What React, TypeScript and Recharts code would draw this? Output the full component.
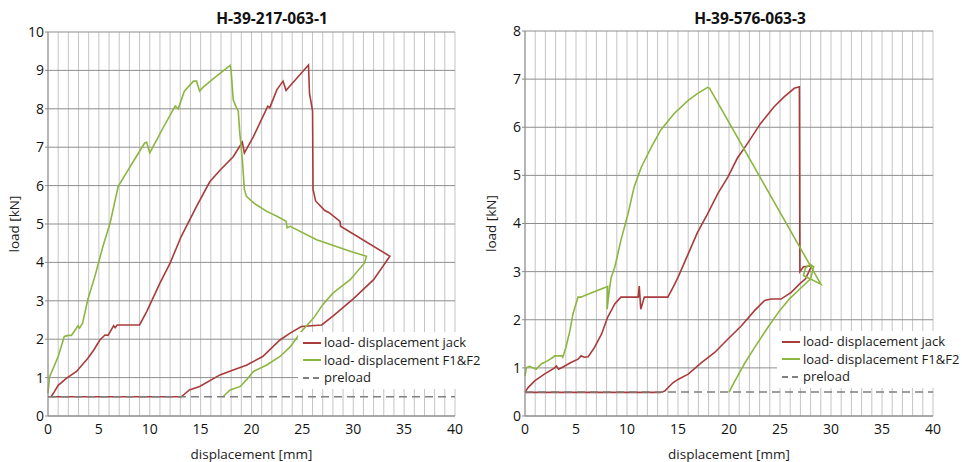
import { LineChart, Line, XAxis, YAxis, CartesianGrid, Legend } from "recharts";

const FONT = "'Open Sans', 'Liberation Sans', sans-serif";
const RED = "#A93B3B";
const GREEN = "#8DB640";
const GREY = "#7F7F7F";

// panel 1: H-39-217-063-1
const jackA: [number, number][] = [
  [0, 0.5], [0.3, 0.5], [0.6, 0.62], [1, 0.8], [1.8, 0.98], [2.8, 1.16], [3.9, 1.5], [4.5, 1.72],
  [5.1, 1.98], [5.6, 2.11], [5.9, 2.1], [6.3, 2.28], [6.45, 2.35], [6.6, 2.3], [6.8, 2.37], [9.0, 2.37],
  [9.7, 2.72], [11, 3.46], [12, 3.98], [13.1, 4.68], [14.6, 5.46], [15.9, 6.1], [16.9, 6.4], [18.2, 6.75],
  [19.1, 7.13], [19.3, 6.85], [20.2, 7.28], [21.6, 8.07], [21.8, 8.03], [22.5, 8.5], [23.1, 8.72],
  [23.4, 8.48], [23.8, 8.6], [25.6, 9.14], [25.7, 8.4], [25.9, 8.1], [26.0, 7.94], [26.05, 5.9],
  [26.3, 5.6], [27.2, 5.35], [27.6, 5.3], [28.7, 5.07], [28.75, 4.94], [33.6, 4.16], [32.0, 3.55],
  [30.0, 3.05], [28.0, 2.6], [26.9, 2.37], [24.9, 2.33], [23.8, 2.16], [22.8, 1.98], [21.1, 1.55],
  [19.5, 1.32], [18.2, 1.2], [16.9, 1.07], [14.9, 0.77], [13.9, 0.68], [13.1, 0.5], [0.3, 0.5],
];
const f12A: [number, number][] = [
  [0, 0.6], [0.15, 1.02], [1, 1.55], [1.6, 2.07], [2, 2.1], [2.3, 2.1], [2.8, 2.29], [2.95, 2.35],
  [3.1, 2.29], [3.4, 2.42], [3.9, 3.02], [4.6, 3.63], [5.4, 4.42], [6.1, 5.02], [6.9, 5.98], [7.7, 6.33],
  [8.5, 6.68], [9.5, 7.11], [9.7, 7.13], [10, 6.85], [10.7, 7.2], [11.3, 7.5], [12.5, 8.07], [12.8, 8.0],
  [13.4, 8.46], [14.3, 8.72], [14.6, 8.72], [14.9, 8.46], [15.2, 8.55], [16.2, 8.77], [17.0, 8.94],
  [17.9, 9.13], [18.0, 8.98], [18.2, 8.24], [18.45, 8.07], [18.7, 7.94], [18.85, 7.37], [19.1, 6.68],
  [19.3, 5.9], [19.5, 5.72], [20.2, 5.55], [21.5, 5.33], [21.8, 5.29], [22.5, 5.2], [23.4, 5.07],
  [23.5, 4.9], [23.8, 4.94], [26.4, 4.59], [29.7, 4.29], [31.3, 4.16], [31.1, 3.98], [29.7, 3.55],
  [28.0, 3.2], [27.0, 2.9], [26.1, 2.55], [24.9, 2.2], [23.8, 1.8], [22.8, 1.55], [21.5, 1.33],
  [20.2, 1.16], [19.5, 0.94], [18.9, 0.77], [17.9, 0.68], [17.2, 0.5],
];

// panel 2: H-39-576-063-3
const jackB: [number, number][] = [
  [0, 0.49], [0.3, 0.59], [0.95, 0.73], [1.9, 0.87], [2.9, 1.0], [3.07, 1.04], [3.3, 0.97], [3.9, 1.04],
  [4.5, 1.11], [5.2, 1.18], [5.5, 1.25], [5.8, 1.22], [6.2, 1.23], [6.8, 1.42], [7.5, 1.7], [8.1, 2.05],
  [8.8, 2.33], [9.4, 2.47], [11.1, 2.47], [11.2, 2.7], [11.35, 2.22], [11.7, 2.47], [14.0, 2.47],
  [14.5, 2.67], [15, 2.88], [16, 3.37], [16.9, 3.81], [17.9, 4.2], [18.9, 4.62], [19.9, 4.97],
  [20.8, 5.35], [21.8, 5.66], [23.1, 6.08], [24.4, 6.42], [25.4, 6.63], [26.4, 6.81], [26.9, 6.84],
  [26.95, 3.0], [27.3, 3.1], [28.1, 3.12], [27.5, 2.85], [26.9, 2.74], [26.1, 2.57], [25.1, 2.43],
  [24.1, 2.43], [23.5, 2.4], [22.5, 2.19], [21.2, 1.87], [19.9, 1.6], [18.6, 1.32], [17.3, 1.11],
  [16, 0.87], [15, 0.76], [14.5, 0.69], [13.7, 0.52], [13.3, 0.49], [0, 0.49],
];
const f12B: [number, number][] = [
  [0, 0.83], [0.13, 1.0], [0.45, 1.03], [0.8, 1.0], [1.1, 0.97], [1.6, 1.08], [2.25, 1.15], [2.75, 1.22],
  [2.9, 1.25], [3.6, 1.25], [3.7, 1.22], [4.0, 1.42], [4.4, 1.77], [4.7, 2.12], [5.2, 2.47], [5.5, 2.47],
  [5.8, 2.5], [8.1, 2.69], [8.05, 2.22], [8.3, 2.67], [8.45, 2.88], [8.8, 3.09], [9.4, 3.65], [10.1, 4.2],
  [10.7, 4.76], [11.4, 5.17], [12.4, 5.59], [13.3, 5.94], [14.6, 6.28], [16, 6.56], [16.9, 6.7],
  [17.9, 6.83], [18.1, 6.81], [29.0, 2.74], [27.3, 2.92], [27.5, 3.08], [28.0, 3.15], [28.3, 3.1],
  [28.0, 2.85], [27, 2.65], [26, 2.45], [25, 2.2], [23.8, 1.84], [22.5, 1.42], [21.5, 1.08],
  [20.5, 0.7], [20, 0.49],
];

const preload: [number, number][] = [[0, 0.5], [40, 0.5]];

const X_TICKS = Array.from({ length: 41 }, (_, i) => i);
const Y_TICKS_A = [0, 1, 2, 3, 4, 5, 6, 7, 8, 9, 10];
const Y_TICKS_B = [0, 1, 2, 3, 4, 5, 6, 7, 8];

const LEGEND = [
  { label: "load- displacement jack", color: RED, dash: undefined },
  { label: "load- displacement F1&F2", color: GREEN, dash: undefined },
  { label: "preload", color: GREY, dash: "6 4" },
];

const toPts = (arr: [number, number][]) => arr.map(([x, y]) => ({ x, y }));

const renderLegend = () => (
  <div style={{ background: "#fff", padding: "2px 2px 2px 4px", fontFamily: FONT, fontSize: 13, color: "#1a1a1a", lineHeight: "17.5px" }}>
    {LEGEND.map((it) => (
      <div key={it.label} style={{ display: "flex", alignItems: "center", whiteSpace: "nowrap" }}>
        <svg width={20} height={10}>
          <line x1={1} x2={19} y1={5} y2={5} stroke={it.color} strokeWidth={2} strokeDasharray={it.dash} />
        </svg>
        <span style={{ marginLeft: 2 }}>{it.label}</span>
      </div>
    ))}
  </div>
);

type PanelProps = {
  left: number;
  title: string;
  titleX: number;
  jack: [number, number][];
  f12: [number, number][];
  yMax: number;
  yTicks: number[];
  margin: { top: number; right: number; bottom: number; left: number };
  yWidth: number;
  legendPos: { left: number; top: number };
};

function Panel(p: PanelProps) {
  const tick = { fontSize: 14, fill: "#111", fontFamily: FONT };
  const axisLabel = { fontSize: 13.5, fill: "#222", fontFamily: FONT };
  return (
    <div style={{ position: "absolute", left: p.left, top: 0, width: 481, height: 462 }}>
      <div
        style={{
          position: "absolute", left: p.titleX - 100, width: 200, top: 8, textAlign: "center",
          fontFamily: FONT, fontWeight: 700, fontSize: 15.5, color: "#111", lineHeight: "20px",
        }}
      >
        {p.title}
      </div>
      <LineChart width={481} height={462} margin={p.margin}>
        <CartesianGrid horizontal={false} stroke="#c4c4c4" strokeWidth={1} />
        <CartesianGrid vertical={false} stroke="#8e8e8e" strokeWidth={1} />
        <XAxis
          type="number"
          dataKey="x"
          domain={[0, 40]}
          ticks={X_TICKS}
          interval={0}
          tickFormatter={(v: number) => (v % 5 === 0 ? String(v) : "")}
          tick={tick}
          tickLine={false}
          tickSize={6}
          tickMargin={2}
          axisLine={{ stroke: "#8a8a8a" }}
          height={46}
          label={{ value: "displacement [mm]", position: "insideBottom", offset: 3, style: axisLabel }}
        />
        <YAxis
          type="number"
          dataKey="y"
          domain={[0, p.yMax]}
          ticks={p.yTicks}
          interval={0}
          tick={tick}
          tickSize={3}
          tickMargin={1}
          tickLine={{ stroke: "#8a8a8a" }}
          axisLine={{ stroke: "#8a8a8a" }}
          width={p.yWidth}
          label={{ value: "load [kN]", angle: -90, position: "insideLeft", offset: p.yWidth - 34, style: { ...axisLabel, textAnchor: "middle" } }}
        />
        <Line data={toPts(p.jack)} dataKey="y" type="linear" stroke={RED} strokeWidth={1.6} dot={false} isAnimationActive={false} name="load- displacement jack" />
        <Line data={toPts(p.f12)} dataKey="y" type="linear" stroke={GREEN} strokeWidth={1.6} dot={false} isAnimationActive={false} name="load- displacement F1&F2" />
        <Line data={toPts(preload)} dataKey="y" type="linear" stroke={GREY} strokeWidth={1.6} strokeDasharray="8 5" dot={false} isAnimationActive={false} name="preload" />
        <Legend
          layout="vertical"
          align="center"
          verticalAlign="middle"
          content={renderLegend}
          wrapperStyle={{ left: p.legendPos.left, top: p.legendPos.top, width: "auto" }}
        />
      </LineChart>
    </div>
  );
}

export default function App() {
  return (
    <div style={{ position: "relative", width: 962, height: 462, background: "#fff" }}>
      <style>{"body{margin:0}"}</style>
      <Panel
        left={0}
        title="H-39-217-063-1"
        titleX={272}
        jack={jackA}
        f12={f12A}
        yMax={10}
        yTicks={Y_TICKS_A}
        margin={{ top: 32, right: 26, bottom: 0, left: 0 }}
        yWidth={48}
        legendPos={{ left: 298, top: 332 }}
      />
      <Panel
        left={481}
        title="H-39-576-063-3"
        titleX={269}
        jack={jackB}
        f12={f12B}
        yMax={8}
        yTicks={Y_TICKS_B}
        margin={{ top: 31, right: 29, bottom: 0, left: 0 }}
        yWidth={44}
        legendPos={{ left: 296, top: 331 }}
      />
    </div>
  );
}
